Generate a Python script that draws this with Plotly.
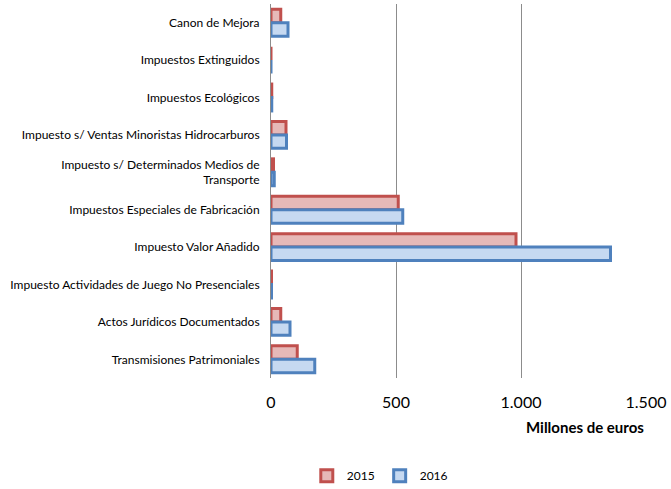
import plotly.graph_objects as go

categories = [
    "Canon de Mejora",
    "Impuestos Extinguidos",
    "Impuestos Ecológicos",
    "Impuesto s/ Ventas Minoristas Hidrocarburos",
    "Impuesto s/ Determinados Medios de<br>Transporte",
    "Impuestos Especiales de Fabricación",
    "Impuesto Valor Añadido",
    "Impuesto Actividades de Juego No Presenciales",
    "Actos Jurídicos Documentados",
    "Transmisiones Patrimoniales",
]
values_2015 = [39, 0, 3, 60, 10, 509, 980, 2, 39, 105]
values_2016 = [68, 0, 3, 62, 13, 527, 1358, 2, 76, 175]

fig = go.Figure()

# 2015 series
fig.add_trace(go.Bar(
    y=categories,
    x=values_2015,
    orientation='h',
    name='2015',
    marker=dict(color='#E6B9B8', line=dict(color='#C0504D', width=3))
))

# 2016 series
fig.add_trace(go.Bar(
    y=categories,
    x=values_2016,
    orientation='h',
    name='2016',
    marker=dict(color='#C6D9F1', line=dict(color='#4F81BD', width=3))
))

fig.add_annotation(
    text="<b>Millones de euros</b>",
    xref='paper', yref='paper',
    x=0.837, y=-0.131,
    xanchor='center', yanchor='middle',
    showarrow=False,
    font=dict(size=15, color='black')
)

fig.update_layout(
    width=671,
    height=489,
    margin=dict(l=271, r=25, t=4, b=111),
    plot_bgcolor='white',
    paper_bgcolor='white',
    font=dict(family='Lato, Calibri, sans-serif', color='black'),
    separators=',.',
    barmode='group',
    bargap=0.28,
    bargroupgap=0,
    showlegend=True,
    legend=dict(
        orientation='h',
        xref='container', yref='container',
        x=0.566, y=0.027,
        xanchor='center', yanchor='middle',
        itemwidth=30,
        font=dict(size=12)
    ),
    xaxis=dict(
        range=[0, 1500],
        tickvals=[0, 500, 1000, 1500],
        tickformat=',d',
        showgrid=True,
        gridcolor='#8c8c8c',
        gridwidth=1,
        zeroline=False,
        showline=False,
        automargin=False,
        ticklabelstandoff=13,
        tickfont=dict(size=16)
    ),
    yaxis=dict(
        autorange='reversed',
        showline=True,
        linecolor='#8c8c8c',
        linewidth=1,
        showgrid=False,
        automargin=False,
        ticklabelstandoff=8,
        tickfont=dict(size=12)
    )
)

# remove the default page margin so the figure sits at the window's corner
fig.write_html("out.html", config={'displayModeBar': False},
               post_script="document.body.style.margin='0';")
